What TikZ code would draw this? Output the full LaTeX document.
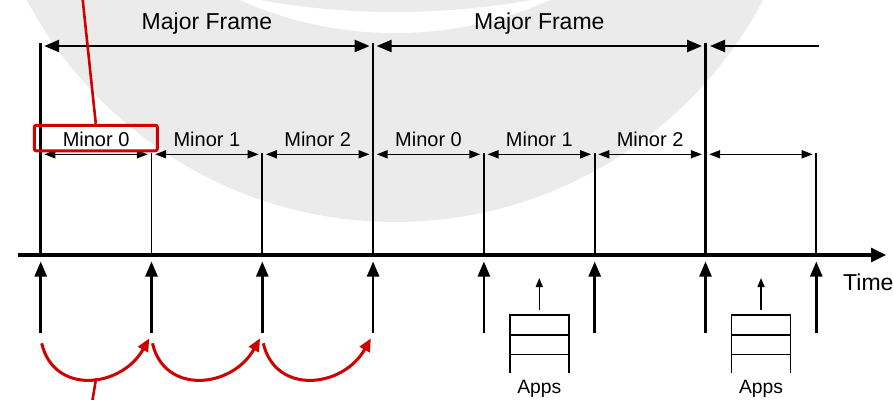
\documentclass[tikz,border=0pt]{standalone}
\usepackage{fontspec}
\setmainfont{Liberation Sans}
\usetikzlibrary{arrows.meta}

\definecolor{callred}{RGB}{208,0,0}
\definecolor{ringgray}{RGB}{235,235,235}

\begin{document}
\begin{tikzpicture}[x=1pt,y=-1pt,>={Triangle[length=15pt,width=12pt]},
            tick major/.style={line width=2.6pt},
            tick minor/.style={line width=1.7pt},
            frame arrow/.style={<->,line width=2.4pt,shorten <=3.5pt,shorten >=3.5pt},
            minor arrow/.style={<->,>={Triangle[length=11pt,width=8pt]},line width=1.6pt,shorten <=3.6pt,shorten >=3.6pt},
            trigger/.style={->,line width=2.5pt},
            callout/.style={draw=callred,line width=3pt},
            major label/.style={anchor=base,inner sep=0pt,font=\fontsize{23}{27}\selectfont},
            minor label/.style={anchor=base,inner sep=0pt,yshift=8.3pt,font=\fontsize{20}{24}\selectfont},
            appstack/.pic={
                \draw[line width=1.5pt] (-29.5,373) |- (29.5,315) -- (29.5,373)
                    (-29.5,335) -- (29.5,335) (-29.5,354.3) -- (29.5,354.3);
                \coordinate (-base) at (0,310);
                \coordinate (-tip) at (0,278);
                \draw[->,>={Triangle[length=9pt,width=7pt]},line width=1.5pt] (-base) -- (-tip);
                \node[anchor=base,inner sep=0pt,font=\fontsize{19.3}{23}\selectfont] (-lbl) at (0,393.5) {Apps};
            }]
            \useasboundingbox (0,0) rectangle (893,399);
            \begin{scope}
                \clip (0,0) rectangle (893,399);
                \fill[ringgray] (395,-194) circle[radius=416pt];
                \fill[white] (395,-347) circle[radius=380pt];
                \fill[ringgray] (395,-753) circle[radius=765pt];
            \end{scope}

            \coordinate (t0) at (40.7,255);
            \coordinate (t1) at (151.5,255);
            \coordinate (t2) at (262.3,255);
            \coordinate (t3) at (373.1,255);
            \coordinate (t4) at (483.9,255);
            \coordinate (t5) at (594.7,255);
            \coordinate (t6) at (705.5,255);
            \coordinate (t7) at (816.3,255);
            \coordinate (majtop) at (0,43);
            \coordinate (mintop) at (0,153);
            \coordinate (majrow) at (0,46);
            \coordinate (minrow) at (0,154.3);
            \coordinate (upbase) at (0,333);
            \coordinate (uptip) at (0,261.5);
            \coordinate (arcrow) at (0,343.3);
            \coordinate (tiprow) at (0,338.3);
            \coordinate (majend) at (819.3,46);
            \coordinate (axstart) at (18,255);
            \coordinate (axend) at (886,255);

            \path[tick major] (t0) edge (t0 |- majtop) (t3) edge (t3 |- majtop) (t6) edge (t6 |- majtop);
            \path[tick minor] (t1) edge (t1 |- mintop) (t2) edge (t2 |- mintop)
                (t4) edge (t4 |- mintop) (t5) edge (t5 |- mintop) (t7) edge (t7 |- mintop);
            \draw[line width=3.2pt,-{Triangle[length=15pt,width=14pt]}] (axstart) -- (axend);
            \node[anchor=base west,inner sep=0pt,font=\fontsize{23}{27}\selectfont] (time) at (843,290) {Time};

            \path[frame arrow]
                (t0 |- majrow) edge node[major label,yshift=16.5pt] (maj0) {Major Frame} (t3 |- majrow)
                (t3 |- majrow) edge node[major label,yshift=16.5pt] (maj1) {Major Frame} (t6 |- majrow);
            \draw[->,line width=2.4pt,shorten >=4.5pt] (majend) -- (t6 |- majrow);

            \path[minor arrow]
                (t0 |- minrow) edge node[minor label] (mi0) {Minor 0} (t1 |- minrow)
                (t1 |- minrow) edge node[minor label] (mi1) {Minor 1} (t2 |- minrow)
                (t2 |- minrow) edge node[minor label] (mi2) {Minor 2} (t3 |- minrow)
                (t3 |- minrow) edge node[minor label] (mi3) {Minor 0} (t4 |- minrow)
                (t4 |- minrow) edge node[minor label] (mi4) {Minor 1} (t5 |- minrow)
                (t5 |- minrow) edge node[minor label] (mi5) {Minor 2} (t6 |- minrow)
                (t6 |- minrow) edge (t7 |- minrow);

            \path[trigger]
                (t0 |- upbase) edge (t0 |- uptip) (t1 |- upbase) edge (t1 |- uptip)
                (t2 |- upbase) edge (t2 |- uptip) (t3 |- upbase) edge (t3 |- uptip)
                (t4 |- upbase) edge (t4 |- uptip) (t5 |- upbase) edge (t5 |- uptip)
                (t6 |- upbase) edge (t6 |- uptip) (t7 |- upbase) edge (t7 |- uptip);

            \pic (apps0) at (539.3,0) {appstack};
            \pic (apps1) at (761,0) {appstack};

            \node[callout,rounded corners=2pt,minimum width=123pt,minimum height=25.5pt] (sel) at (95.8,138) {};
            \coordinate (selout) at (82.2,-5);
            \draw[callred,line width=2.6pt] (sel.north) -- (selout);

            \draw[callred,line width=3pt,->,>={Triangle[length=13pt,width=11pt]}]
                ([xshift=1pt]t0 |- arcrow) .. controls +(12,52) and +(-28,50) .. coordinate[pos=0.55] (loop) ([xshift=-2.2pt]t1 |- tiprow);
            \draw[callred,line width=3pt,->,>={Triangle[length=13pt,width=11pt]}]
                ([xshift=1pt]t1 |- arcrow) .. controls +(12,52) and +(-28,50) .. ([xshift=-2.2pt]t2 |- tiprow);
            \draw[callred,line width=3pt,->,>={Triangle[length=13pt,width=11pt]}]
                ([xshift=1pt]t2 |- arcrow) .. controls +(12,52) and +(-28,50) .. ([xshift=-2.2pt]t3 |- tiprow);
            \coordinate (loopout) at ([shift={(-4.5,27)}]loop);
            \draw[callred,line width=2.6pt] (loop) -- (loopout);
\end{tikzpicture}
\end{document}
